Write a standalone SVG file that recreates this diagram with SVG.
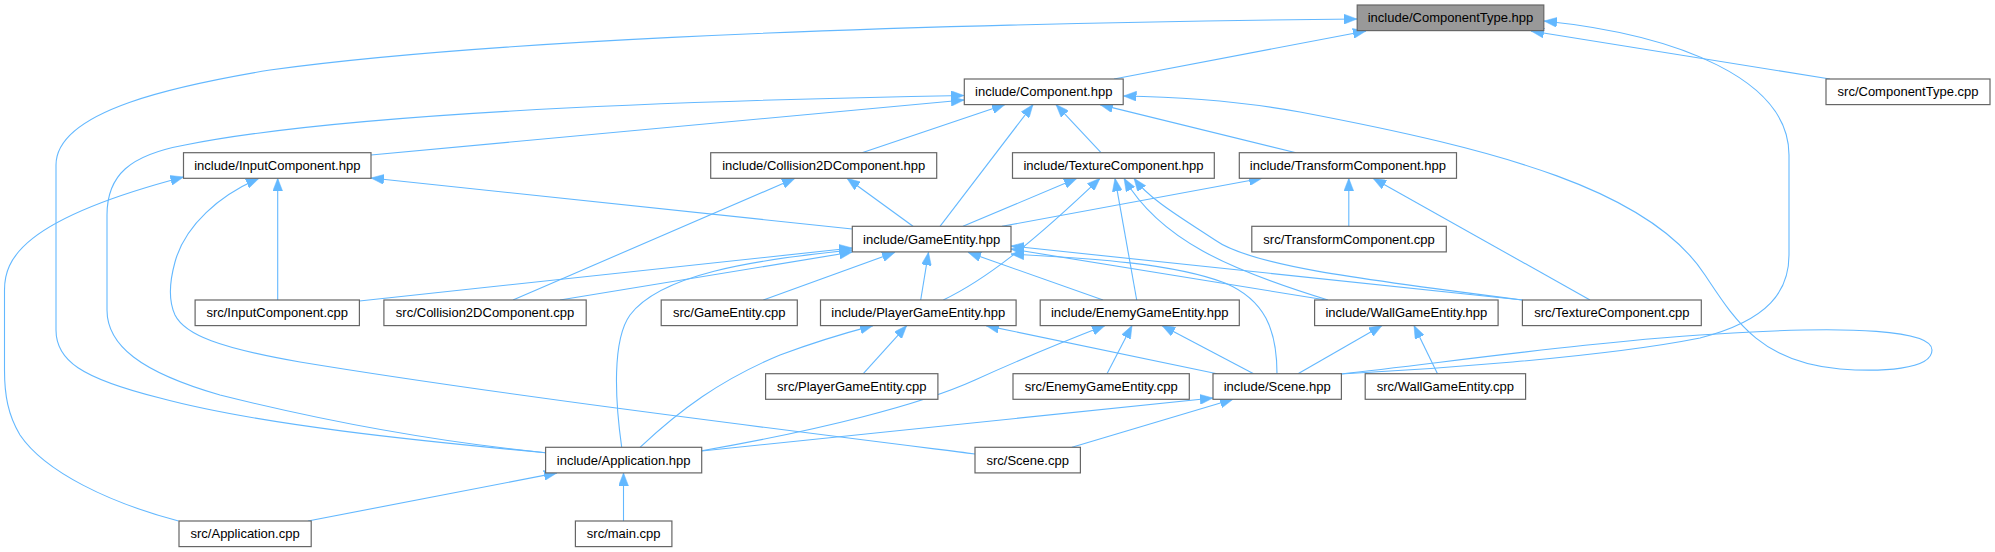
<svg xmlns="http://www.w3.org/2000/svg" width="1995" height="552" viewBox="0 0 1995 552">
<style>
.node rect{fill:#ffffff;stroke:#666666;stroke-width:1.2}
.node.hl rect{fill:#999999}
.node text{font-family:"Liberation Sans",Arial,Helvetica,sans-serif;font-size:13px;text-anchor:middle;fill:#000000}
.edges path{fill:none;stroke:#63b8ff;stroke-width:1.1;marker-end:url(#arr)}
</style>
<defs>
<marker id="arr" markerUnits="userSpaceOnUse" markerWidth="13" markerHeight="10" viewBox="0 0 13 10" refX="13" refY="5" orient="auto">
<path d="M0,0 L13,5 L0,10 Z" fill="#63b8ff" stroke="#63b8ff" stroke-width="0.5"/>
</marker>
</defs>
<rect width="1995" height="552" fill="#ffffff"/>
<g id="connectors" class="edges">
<path d="M1114,79 L1366,31"/>
<path d="M1830,79 L1531,31"/>
<path d="M545.5,452.7 C420,441 260,425 160,398 C80,378 56,360 56,330 L56,165 C56,110 180,85 270,70 C450,45 800,25 1357,19"/>
<path d="M1341,374 C1420,370 1600,358 1700,338 C1770,320 1789,290 1789,255 L1789,155 C1789,80 1680,35 1544,21"/>
<path d="M1341,374 C1450,362 1600,340 1733,333 C1850,326 1932,330 1932,350 C1932,370 1880,372 1840,369 C1760,362 1735,320 1705,275 C1650,190 1500,150 1300,112 C1240,101 1180,97 1123.5,96"/>
<path d="M371,155 L964,100"/>
<path d="M545.5,452.7 C420,440 300,415 220,395 C140,372 107,345 107,310 L107,215 C107,175 130,155 185,145 C320,118 600,102 964,95.5"/>
<path d="M862,152.7 L1005,104.6"/>
<path d="M940,226.3 L1033,104.6"/>
<path d="M1101,152.7 L1056,104.6"/>
<path d="M1296,152.7 L1100,104.6"/>
<path d="M178.6,521 C110,503 45,472 20,435 C8,415 4.5,395 4.5,370 L4.5,290 C4.5,260 20,220 183.5,177"/>
<path d="M975,454 C800,432 500,395 300,362 C220,348 185,335 175,315 C168,300 170,280 175,262 C185,225 220,195 259,178.3"/>
<path d="M277.7,300 L277.7,178.3"/>
<path d="M852.3,229 L371,178"/>
<path d="M513,300 L795,178.3"/>
<path d="M913,226.3 L847,178.3"/>
<path d="M963,226.3 L1077,178.3"/>
<path d="M943.3,300 C985,280 1030,245 1100,178.3"/>
<path d="M1136.7,300 L1115,178.3"/>
<path d="M1328,300 C1230,270 1160,240 1124,178.3"/>
<path d="M1522.4,300 C1350,278 1250,265 1215,240 C1185,220 1150,200 1134,178.3"/>
<path d="M1002,226.3 L1262,178.3"/>
<path d="M1348.8,226.3 L1348.8,178.3"/>
<path d="M1590,300 L1373,178.3"/>
<path d="M359.4,301 L852.3,248"/>
<path d="M560,300 L852.3,252"/>
<path d="M621.7,447.3 C615,400 612,340 630,315 C660,275 750,260 852.3,250"/>
<path d="M763.3,300 L895,252.3"/>
<path d="M920.7,300 L928.5,252.3"/>
<path d="M1103,300 L968,252.3"/>
<path d="M1326,300 L1011,249"/>
<path d="M1522.4,300 L1011,246"/>
<path d="M1277,373.7 C1277,330 1265,300 1225,283 C1170,262 1080,258 1011,254"/>
<path d="M640,447.3 C680,410 720,380 780,355 C820,340 845,333 873,325.6"/>
<path d="M863.3,373.7 L906.7,325.6"/>
<path d="M1217,373.7 L986,325.6"/>
<path d="M701.7,450.7 C820,430 920,405 975,380 C1030,355 1060,343 1105,325.6"/>
<path d="M1107,373.7 L1132,325.6"/>
<path d="M1253.6,373.7 L1162,325.6"/>
<path d="M1298,373.7 L1382,325.6"/>
<path d="M1437.5,373.7 L1414,325.6"/>
<path d="M701.7,451 L1213,398"/>
<path d="M1072,447.3 L1233,399.3"/>
<path d="M308,521 L557,472.9"/>
<path d="M623.5,521 L623.5,472.9"/>
</g>
<g id="n_componenttype_hpp" class="node hl"><rect x="1357.2" y="5" width="186.6" height="25.6"/><text x="1450.5" y="22.4">include/ComponentType.hpp</text></g>
<g id="n_component_hpp" class="node"><rect x="964.3" y="79" width="158.9" height="25.6"/><text x="1043.75" y="96.4">include/Component.hpp</text></g>
<g id="n_componenttype_cpp" class="node"><rect x="1826" y="79" width="164" height="25.6"/><text x="1908" y="96.4">src/ComponentType.cpp</text></g>
<g id="n_inputcomponent_hpp" class="node"><rect x="183.5" y="152.7" width="187.5" height="25.6"/><text x="277.25" y="170.1">include/InputComponent.hpp</text></g>
<g id="n_collision2dcomponent_hpp" class="node"><rect x="710.7" y="152.7" width="226" height="25.6"/><text x="823.7" y="170.1">include/Collision2DComponent.hpp</text></g>
<g id="n_texturecomponent_hpp" class="node"><rect x="1012.5" y="152.7" width="201.8" height="25.6"/><text x="1113.4" y="170.1">include/TextureComponent.hpp</text></g>
<g id="n_transformcomponent_hpp" class="node"><rect x="1239.3" y="152.7" width="217.2" height="25.6"/><text x="1347.9" y="170.1">include/TransformComponent.hpp</text></g>
<g id="n_gameentity_hpp" class="node"><rect x="852.3" y="226.3" width="158.7" height="25.6"/><text x="931.65" y="243.7">include/GameEntity.hpp</text></g>
<g id="n_transformcomponent_cpp" class="node"><rect x="1251.8" y="226.3" width="194.5" height="25.6"/><text x="1349.05" y="243.7">src/TransformComponent.cpp</text></g>
<g id="n_inputcomponent_cpp" class="node"><rect x="195.1" y="300" width="164.3" height="25.6"/><text x="277.25" y="317.4">src/InputComponent.cpp</text></g>
<g id="n_collision2dcomponent_cpp" class="node"><rect x="383.9" y="300" width="202.3" height="25.6"/><text x="485.05" y="317.4">src/Collision2DComponent.cpp</text></g>
<g id="n_gameentity_cpp" class="node"><rect x="661.2" y="300" width="136.1" height="25.6"/><text x="729.25" y="317.4">src/GameEntity.cpp</text></g>
<g id="n_playergameentity_hpp" class="node"><rect x="820.5" y="300" width="195.6" height="25.6"/><text x="918.3" y="317.4">include/PlayerGameEntity.hpp</text></g>
<g id="n_enemygameentity_hpp" class="node"><rect x="1040.2" y="300" width="199.1" height="25.6"/><text x="1139.75" y="317.4">include/EnemyGameEntity.hpp</text></g>
<g id="n_wallgameentity_hpp" class="node"><rect x="1314.6" y="300" width="183.5" height="25.6"/><text x="1406.35" y="317.4">include/WallGameEntity.hpp</text></g>
<g id="n_texturecomponent_cpp" class="node"><rect x="1522.4" y="300" width="178.9" height="25.6"/><text x="1611.85" y="317.4">src/TextureComponent.cpp</text></g>
<g id="n_playergameentity_cpp" class="node"><rect x="765.6" y="373.7" width="172.3" height="25.6"/><text x="851.75" y="391.1">src/PlayerGameEntity.cpp</text></g>
<g id="n_enemygameentity_cpp" class="node"><rect x="1013" y="373.7" width="176.3" height="25.6"/><text x="1101.15" y="391.1">src/EnemyGameEntity.cpp</text></g>
<g id="n_scene_hpp" class="node"><rect x="1213" y="373.7" width="128.4" height="25.6"/><text x="1277.2" y="391.1">include/Scene.hpp</text></g>
<g id="n_wallgameentity_cpp" class="node"><rect x="1365.2" y="373.7" width="160.4" height="25.6"/><text x="1445.4" y="391.1">src/WallGameEntity.cpp</text></g>
<g id="n_application_hpp" class="node"><rect x="545.6" y="447.3" width="156.1" height="25.6"/><text x="623.65" y="464.7">include/Application.hpp</text></g>
<g id="n_scene_cpp" class="node"><rect x="975" y="447.3" width="105.4" height="25.6"/><text x="1027.7" y="464.7">src/Scene.cpp</text></g>
<g id="n_application_cpp" class="node"><rect x="179" y="521" width="132.2" height="25.6"/><text x="245.1" y="538.4">src/Application.cpp</text></g>
<g id="n_main_cpp" class="node"><rect x="575.4" y="521" width="96.5" height="25.6"/><text x="623.65" y="538.4">src/main.cpp</text></g>
</svg>
